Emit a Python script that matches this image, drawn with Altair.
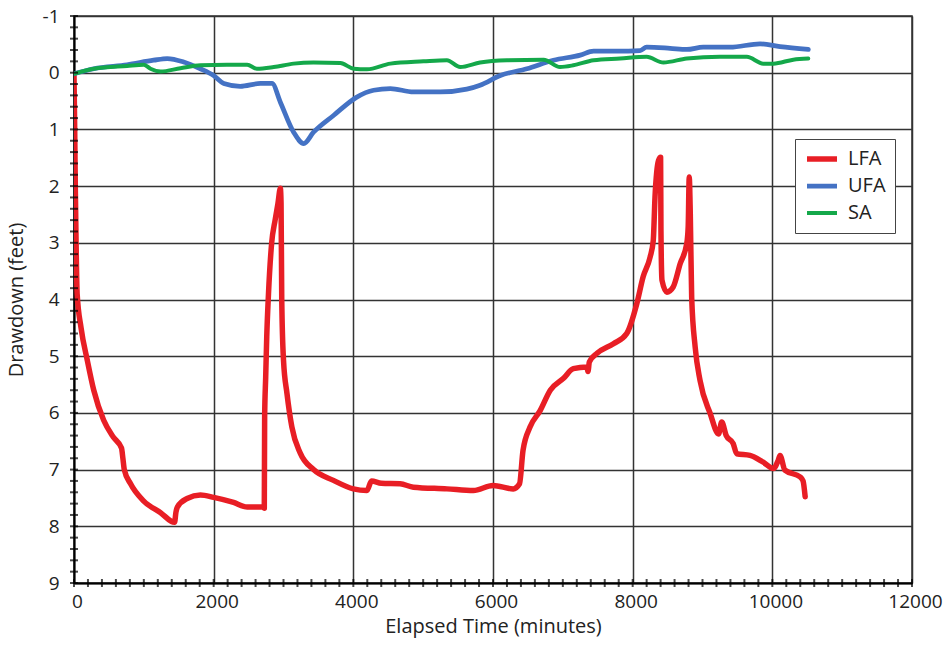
import altair as alt
import pandas as pd

# LFA (red) drawdown, feet
lfa_t = [0, 10, 20, 30, 45, 100, 190, 283, 425, 565, 680, 700, 720, 810, 995, 1240, 1440, 1460, 1480,
         1620, 1810, 2000, 2285, 2480, 2700, 2725, 2730, 2745, 2760, 2785, 2830, 2880, 2920, 2955,
         2965, 2975, 3000, 3050, 3120, 3240, 3430, 3715, 4000, 4195, 4260, 4400, 4670, 4860, 5340,
         5720, 6000, 6290, 6380, 6430, 6530, 6675, 6820, 7010, 7150, 7345, 7360, 7380, 7490, 7725,
         7915, 8060, 8150, 8250, 8295, 8320, 8370, 8400, 8405, 8420, 8490, 8580, 8680, 8775, 8795,
         8810, 8825, 8845, 8895, 8965, 9110, 9230, 9275, 9340, 9440, 9490, 9680, 9870, 10015, 10080,
         10110, 10180, 10400, 10440, 10470]
lfa_d = [0.05, 1.0, 2.13, 3.0, 3.9, 4.49, 5.07, 5.6, 6.13, 6.43, 6.62, 6.8, 7.0, 7.25, 7.55, 7.76, 7.93, 7.75, 7.66,
         7.51, 7.45, 7.49, 7.58, 7.66, 7.66, 7.68, 6.07, 5.37, 4.66, 3.9, 3.01, 2.6, 2.31, 2.04,
         2.3, 4.01, 5.07, 5.66, 6.25, 6.71, 7.0, 7.19, 7.34, 7.37, 7.2, 7.24, 7.25, 7.31, 7.34,
         7.37, 7.28, 7.34, 7.25, 6.66, 6.25, 5.96, 5.6, 5.39, 5.22, 5.19, 5.27, 5.1, 4.95, 4.78,
         4.6, 4.07, 3.6, 3.25, 2.96, 2.19, 1.55, 1.49, 2.78, 3.66, 3.87, 3.78, 3.37, 3.01, 2.72,
         1.84, 2.48, 3.96, 4.84, 5.43, 6.01, 6.37, 6.16, 6.4, 6.54, 6.72, 6.75, 6.87, 6.98, 6.85,
         6.75, 7.01, 7.13, 7.2, 7.48]

# UFA (blue)
ufa_t = [0, 283, 760, 1140, 1335, 1570, 1810, 2000, 2145, 2380, 2670, 2835, 2955, 3145, 3290, 3430,
         3720, 4050, 4290, 4530, 4860, 5245, 5625, 5815, 6105, 6485, 6865, 7250, 7440, 7775, 8105,
         8200, 8535, 8775, 9010, 9395, 9825, 10110, 10515]
ufa_d = [0.02, -0.07, -0.14, -0.22, -0.25, -0.19, -0.07, 0.05, 0.19, 0.24, 0.19, 0.19, 0.52, 1.05, 1.25, 1.05,
         0.75, 0.43, 0.31, 0.28, 0.34, 0.34, 0.29, 0.22, 0.05, -0.07, -0.22, -0.31, -0.38, -0.38, -0.39,
         -0.45, -0.43, -0.41, -0.45, -0.45, -0.51, -0.46, -0.41]

# SA (green)
sa_t = [0, 283, 760, 1000, 1095, 1240, 1525, 1810, 2190, 2480, 2620, 2860, 3145, 3430, 3815, 4005,
        4195, 4530, 5005, 5340, 5530, 5815, 6200, 6725, 6960, 7150, 7440, 7820, 8200, 8440, 8775,
        9250, 9635, 9870, 10015, 10300, 10515]
sa_d = [0.02, -0.07, -0.12, -0.14, -0.07, -0.02, -0.08, -0.13, -0.14, -0.14, -0.07, -0.1, -0.16, -0.18, -0.17, -0.07,
        -0.06, -0.16, -0.2, -0.22, -0.1, -0.18, -0.22, -0.23, -0.1, -0.13, -0.22, -0.25, -0.28, -0.18, -0.25,
        -0.28, -0.28, -0.16, -0.16, -0.23, -0.25]

series_names = ["LFA", "UFA", "SA"]
series_colors = ["#E81E25", "#4472C4", "#14A84A"]

x_major = [0, 2000, 4000, 6000, 8000, 10000, 12000]
y_major = [-1, 0, 1, 2, 3, 4, 5, 6, 7, 8, 9]
x_minor = list(range(0, 12001, 200))
y_minor = [round(-1 + 0.2 * i, 1) for i in range(51)]

rows = []
for name, ts, ds in [("LFA", lfa_t, lfa_d), ("UFA", ufa_t, ufa_d), ("SA", sa_t, sa_d)]:
    for i, (t, d) in enumerate(zip(ts, ds)):
        rows.append({"series": name, "t": t, "d": d, "i": i})
df = pd.DataFrame(rows)

W, H = 838, 567
FONT = "Open Sans"

xscale = alt.Scale(domain=[0, 12000], nice=False, zero=False)
yscale = alt.Scale(domain=[-1, 9], reverse=True, nice=False, zero=False)
xaxis = alt.Axis(values=x_major, title="Elapsed Time (minutes)", ticks=False,
                 labelPadding=9, titlePadding=5, grid=True, labelFlush=False, labelOffset=3,
                 labelExpr="toString(datum.value)")
yaxis = alt.Axis(values=y_major, title="Drawdown (feet)", ticks=False,
                 labelPadding=15, titlePadding=16, grid=True, labelFlush=False,
                 labelExpr="toString(datum.value)")

lines = alt.Chart(df).mark_line(strokeJoin="round", strokeCap="round", clip=True,
                                interpolate="monotone").encode(
    x=alt.X("t:Q", scale=xscale, axis=xaxis),
    y=alt.Y("d:Q", scale=yscale, axis=yaxis),
    color=alt.Color("series:N", scale=alt.Scale(domain=series_names, range=series_colors),
                    legend=alt.Legend(title=None, orient="none", legendX=721, legendY=123,
                                      symbolType="stroke", symbolSize=900, symbolStrokeWidth=4,
                                      labelFontSize=20, labelFont=FONT, labelColor="#222",
                                      strokeColor="#444", fillColor="white", padding=9,
                                      rowPadding=5, clipHeight=22, labelOffset=8)),
    strokeWidth=alt.StrokeWidth("series:N", scale=alt.Scale(domain=series_names, range=[5.5, 4, 4]),
                                legend=None),
    order="i:Q",
)

xt = alt.Chart(pd.DataFrame({"t": x_minor})).mark_tick(color="black", thickness=2, size=8).encode(
    x=alt.X("t:Q", scale=xscale, axis=xaxis),
    y=alt.value(H),
)
yt = alt.Chart(pd.DataFrame({"d": y_minor})).mark_tick(color="black", thickness=2, size=8).encode(
    y=alt.Y("d:Q", scale=yscale, axis=yaxis),
    x=alt.value(0),
)

chart = alt.layer(lines, xt, yt).properties(
    width=W, height=H,
    background="white",
    autosize=alt.AutoSizeParams(type="none"),
    padding={"left": 74, "top": 16, "right": 38, "bottom": 63},
).configure_view(stroke="#333", strokeWidth=1.5).configure_axis(
    gridColor="#333", gridWidth=1.5, gridOpacity=1,
    domainColor="black", domainWidth=2,
    labelFont=FONT, labelFontSize=19, labelColor="#222",
    titleFont=FONT, titleFontSize=20, titleFontWeight="normal", titleColor="#222",
)

chart.save("out.html", embed_options={"renderer": "svg", "actions": False})
